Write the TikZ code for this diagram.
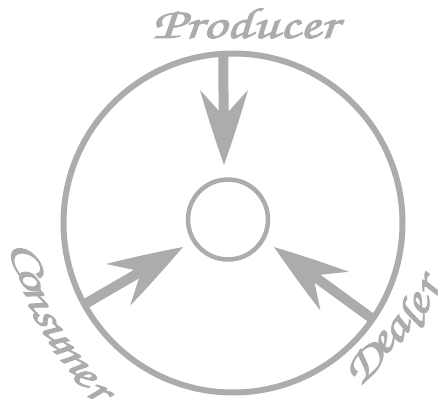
\documentclass[tikz,border=0pt]{standalone}
\usepackage[T1]{fontenc}
\usetikzlibrary{calc}
\definecolor{ink}{RGB}{172,172,172}
\newcommand{\handfont}{\usefont{T1}{pzc}{mb}{it}\fontsize{44}{46}\selectfont}
\tikzset{
  rim/.style={draw=ink, line width=6pt},
  hub/.style={draw=ink, line width=4.5pt, circle, minimum size=80pt, inner sep=0pt},
  shaft/.style={draw=ink, line width=10pt},
  word/.style={text=ink, font=\handfont, inner sep=0pt, xscale=1.35,
    execute at begin node={\special{pdf:literal direct 2 Tr 0.8 w}},
    execute at end node={\special{pdf:literal direct 0 Tr}}},
  pics/spearhead/.style={code={
    \fill[ink] (0,0) .. controls (-20,7) and (-50,17) .. (-75,24) -- (-54,5)
      -- (-54,-5) -- (-75,-24) .. controls (-50,-17) and (-20,-7) .. (0,0) -- cycle;
  }},
}
\begin{document}
\begin{tikzpicture}[x=1pt, y=1pt]
        \useasboundingbox (-233,-186) rectangle (205,223);
        % Circles
        \draw[rim] (0,0) circle (169.5pt);
        \node[hub] (hub) at (-5,3.5) {};

        % Arrow ends
        \coordinate (rimP) at (93.3:169.5);
        \coordinate (tipP) at (-9,58);
        \coordinate (rimC) at (208.7:169.5);
        \coordinate (tipC) at (-50,-24);
        \coordinate (rimD) at (-34.5:169.5);
        \coordinate (tipD) at (41,-24);

        % Arrows
        \foreach \s/\r in {P/-90, C/30.2, D/143.9} {
            \draw[shaft] (rim\s) -- ($(tip\s)!45pt!(rim\s)$);
            \pic[rotate=\r] at (tip\s) {spearhead};
        }

        % Labels
        \node[word, anchor=base] (producer) at (12,185) {Producer};
        \foreach \ch/\a/\d [count=\i] in {C/189.5/208, o/195/211, n/200.5/211, s/206.3/211,
                u/211.7/210, m/219/211, e/225.5/214, r/231/217}
            \node[rotate=\a+90, word] (consumer\i) at (\a:\d) {\ch};
        \foreach \ch/\a/\d [count=\i] in {D/-47/192, e/-39/193, a/-33.5/197,
                l/-28.5/201, e/-24/204, r/-18.5/207}
            \node[rotate=\a+90, word] (dealer\i) at (\a:\d) {\ch};
    \end{tikzpicture}
\end{document}
